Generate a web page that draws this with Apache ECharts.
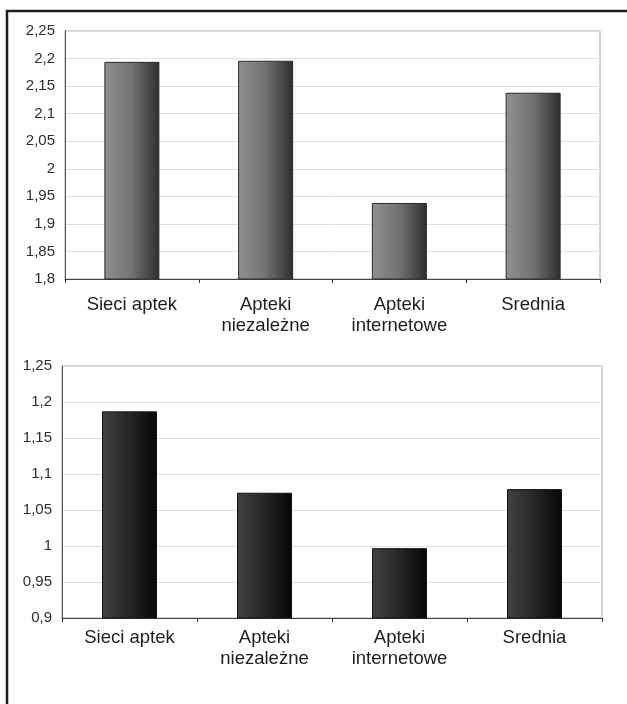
<!DOCTYPE html>
<html>
<head>
<meta charset="utf-8">
<script src="https://cdn.jsdelivr.net/npm/echarts@6/dist/echarts.min.js"></script>
<style>
  html, body { margin: 0; padding: 0; background: #ffffff; }
  #chart { width: 627px; height: 704px; }
</style>
</head>
<body>
<div id="chart"></div>
<script>
// Pharmacy categories shared by both panels
const categories = ['Sieci aptek', 'Apteki\nniezależne', 'Apteki\ninternetowe', 'Srednia'];

// Upper panel values
const upperValues = [2.194, 2.196, 1.938, 2.138];
// Lower panel values
const lowerValues = [1.187, 1.074, 0.997, 1.079];

// Axis ranges and tick steps
const upperAxis = { min: 1.8, max: 2.25, interval: 0.05 };
const lowerAxis = { min: 0.9, max: 1.25, interval: 0.05 };

const FONT = 'Liberation Sans, Arial, Helvetica, sans-serif';

// Format ticks with a decimal comma, dropping trailing zeros
function commaFormat(v) {
  const s = (Math.round(v * 1000) / 1000).toString();
  return s.replace('.', ',');
}

function barGradient(stops) {
  return new echarts.graphic.LinearGradient(0, 0, 1, 0, stops);
}

function makeXAxis(gridIndex, labelMargin) {
  return {
    type: 'category',
    gridIndex: gridIndex,
    data: categories,
    boundaryGap: true,
    axisLine: { show: true, lineStyle: { color: '#444', width: 1 } },
    axisTick: { show: true, length: 4, lineStyle: { color: '#333', width: 1 } },
    axisLabel: {
      color: '#1e1e1e',
      fontFamily: FONT,
      fontSize: 18.5,
      lineHeight: 21,
      margin: labelMargin,
      interval: 0
    },
    splitLine: { show: false }
  };
}

function makeYAxis(gridIndex, range) {
  return {
    type: 'value',
    gridIndex: gridIndex,
    min: range.min,
    max: range.max,
    interval: range.interval,
    axisLine: { show: true, lineStyle: { color: '#555', width: 1 } },
    axisTick: { show: false },
    axisLabel: {
      color: '#2e2e2e',
      fontFamily: FONT,
      fontSize: 15,
      margin: 10,
      formatter: commaFormat
    },
    splitLine: { show: true, lineStyle: { color: '#e0e0e0', width: 1 } }
  };
}

const chart = echarts.init(document.getElementById('chart'), null, { renderer: 'canvas' });

chart.setOption({
  animation: false,
  backgroundColor: '#ffffff',
  graphic: [
    {
      type: 'rect',
      shape: { x: 7, y: 11, width: 660, height: 760 },
      style: { fill: 'none', stroke: '#1e1e1e', lineWidth: 2.5 },
      z: 100
    }
  ],
  grid: [
    { left: 65, top: 31, right: 27, height: 248, show: true, borderColor: '#a8a8a8', borderWidth: 1, backgroundColor: 'transparent' },
    { left: 62, top: 366, right: 25, height: 252, show: true, borderColor: '#a8a8a8', borderWidth: 1, backgroundColor: 'transparent' }
  ],
  xAxis: [makeXAxis(0, 15), makeXAxis(1, 9)],
  yAxis: [makeYAxis(0, upperAxis), makeYAxis(1, lowerAxis)],
  series: [
    {
      type: 'bar',
      xAxisIndex: 0,
      yAxisIndex: 0,
      data: upperValues,
      barWidth: 55,
      itemStyle: {
        color: barGradient([
          { offset: 0, color: '#909090' },
          { offset: 0.5, color: '#727272' },
          { offset: 1, color: '#2e2e2e' }
        ]),
        borderColor: '#2a2a2a',
        borderWidth: 1
      }
    },
    {
      type: 'bar',
      xAxisIndex: 1,
      yAxisIndex: 1,
      data: lowerValues,
      barWidth: 55,
      itemStyle: {
        color: barGradient([
          { offset: 0, color: '#424242' },
          { offset: 0.5, color: '#262626' },
          { offset: 1, color: '#060606' }
        ]),
        borderColor: '#111111',
        borderWidth: 1
      }
    }
  ]
});
</script>
</body>
</html>
